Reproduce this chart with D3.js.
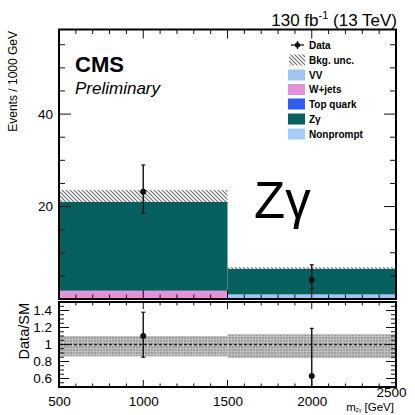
<!DOCTYPE html>
<html>
<head>
<meta charset="utf-8">
<script src="https://cdn.jsdelivr.net/npm/d3@7"></script>
<style>
  html, body { margin: 0; padding: 0; background: #fff; }
  svg { display: block; font-family: "Liberation Sans", Arial, sans-serif; }
</style>
</head>
<body>
<svg id="chart" width="415" height="415"></svg>
<script>
// Bin edges in m_Zγ [GeV]
const binEdges = [[500, 1500], [1500, 2500]];
const binCenters = [1000, 2000];

// Background stack, bottom to top
const processes = ["VV", "W+jets", "Top quark", "Zγ", "Nonprompt"];
const processColors = ["#9ec6f2", "#e391d9", "#2f5cf0", "#07605e", "#a6cdf7"];
const vvYield = [0.0, 1.0];
const wjetsYield = [1.8, 0.0];
const topYield = [0.0, 0.0];
const zgYield = [19.2, 5.5];
const nonpromptYield = [0.0, 0.0];

// Total background uncertainty (upper edge shown as hatched band)
const bkgUncUp = [2.6, 0.4];

// Observed data
const dataY = [23.2, 4.1];
const dataErrUp = [5.8, 3.3];
const dataErrDn = [4.6, 1.9];

// Ratio panel
const ratioY = [1.1, 0.63];
const ratioErrUp = [0.28, 0.56];
const ratioErrDn = [0.25, 0.4];
const ratioBandUp = [0.1, 0.12];
const ratioBandDn = [0.14, 0.16];

const xTicks = [500, 1000, 1500, 2000, 2500];
const yMainTicks = [20, 40];
const yRatioTicks = [0.6, 0.8, 1, 1.2, 1.4];

const svg = d3.select("#chart");
const L = 59, R = 396;
const mainTop = 29.5, mainBot = 299;
const ratTop = 302, ratBot = 387;

const x = d3.scaleLinear().domain([500, 2500]).range([L, R]);
const y = d3.scaleLinear().domain([0, 58.3]).range([mainBot, mainTop]);
const yr = d3.scaleLinear().domain([0.5, 1.5]).range([ratBot, ratTop]);

const defs = svg.append("defs");
const hatch = defs.append("pattern").attr("id", "hatch")
  .attr("patternUnits", "userSpaceOnUse").attr("width", 4).attr("height", 4);
hatch.append("path").attr("d", "M-1,-1 L5,5 M-1,3 L1,5 M3,-1 L5,1")
  .attr("stroke", "#6b6b6b").attr("stroke-width", 1.1);
const grid = defs.append("pattern").attr("id", "grid")
  .attr("patternUnits", "userSpaceOnUse").attr("width", 3).attr("height", 3);
grid.append("rect").attr("width", 3).attr("height", 3).attr("fill", "#a0a0a0");
grid.append("path").attr("d", "M0,0.5 H3 M0.5,0 V3").attr("stroke", "#c4c4c4").attr("stroke-width", 0.8);

// Stacked histogram
const yields = [vvYield, wjetsYield, topYield, zgYield, nonpromptYield];
const stackRows = binCenters.map((c, i) => {
  const row = { bin: i };
  processes.forEach((p, k) => row[p] = yields[k][i]);
  return row;
});
const series = d3.stack().keys(processes)(stackRows);
const gStack = svg.append("g");
series.forEach((s, k) => {
  gStack.selectAll(null).data(s).join("rect")
    .attr("x", d => x(binEdges[d.data.bin][0]))
    .attr("width", d => x(binEdges[d.data.bin][1]) - x(binEdges[d.data.bin][0]))
    .attr("y", d => y(d[1]))
    .attr("height", d => y(d[0]) - y(d[1]))
    .attr("fill", processColors[k]);
});
const totals = binCenters.map((c, i) => yields.reduce((a, v) => a + v[i], 0));

// Uncertainty hatch
svg.append("g").selectAll("rect").data(totals).join("rect")
  .attr("x", (d, i) => x(binEdges[i][0]))
  .attr("width", (d, i) => x(binEdges[i][1]) - x(binEdges[i][0]))
  .attr("y", (d, i) => y(d + bkgUncUp[i]))
  .attr("height", (d, i) => y(d) - y(d + bkgUncUp[i]))
  .attr("fill", "url(#hatch)");

// Data points with error bars
function drawPoints(g, xs, ys, up, dn, ys2) {
  xs.forEach((xv, i) => {
    const px = x(xv);
    const top = ys2(ys[i] + up[i]);
    const bot = Math.min(ys2(ys[i] - dn[i]), ys2.range()[0]);
    g.append("line").attr("x1", px).attr("x2", px).attr("y1", top).attr("y2", bot)
      .attr("stroke", "#111").attr("stroke-width", 1.4);
    g.append("line").attr("x1", px - 2).attr("x2", px + 2).attr("y1", top).attr("y2", top)
      .attr("stroke", "#111").attr("stroke-width", 1.2);
    if (ys2(ys[i] - dn[i]) < ys2.range()[0])
      g.append("line").attr("x1", px - 2).attr("x2", px + 2).attr("y1", bot).attr("y2", bot)
        .attr("stroke", "#111").attr("stroke-width", 1.2);
    g.append("circle").attr("cx", px).attr("cy", ys2(ys[i])).attr("r", 3).attr("fill", "#111");
  });
}
drawPoints(svg.append("g"), binCenters, dataY, dataErrUp, dataErrDn, y);

// Ratio band and reference line
svg.append("g").selectAll("rect").data(binCenters).join("rect")
  .attr("x", (d, i) => x(binEdges[i][0]))
  .attr("width", (d, i) => x(binEdges[i][1]) - x(binEdges[i][0]))
  .attr("y", (d, i) => yr(1 + ratioBandUp[i]))
  .attr("height", (d, i) => yr(1 - ratioBandDn[i]) - yr(1 + ratioBandUp[i]))
  .attr("fill", "url(#grid)");
svg.append("line").attr("x1", L).attr("x2", R).attr("y1", yr(1)).attr("y2", yr(1))
  .attr("stroke", "#222").attr("stroke-width", 1.3).attr("stroke-dasharray", "3,2");
const gR = svg.append("g");
drawPoints(gR, binCenters, ratioY, ratioErrUp, ratioErrDn, yr);

// Ticks (drawn inward on all sides, ROOT style)
function ticksX(yPos, dir, major, minor) {
  const g = svg.append("g");
  d3.range(500, 2501, 100).forEach(v => {
    const len = xTicks.includes(v) ? major : minor;
    g.append("line").attr("x1", x(v)).attr("x2", x(v)).attr("y1", yPos).attr("y2", yPos + dir * len)
      .attr("stroke", "#111").attr("stroke-width", 1);
  });
}
ticksX(mainBot, -1, 9, 4.5);
ticksX(mainTop, 1, 9, 4.5);
ticksX(ratBot, -1, 7, 3.5);
ticksX(ratTop, 1, 7, 3.5);

function ticksY(scale, values, majors, major, minor) {
  const g = svg.append("g");
  values.forEach(v => {
    const isMaj = majors.some(m => Math.abs(m - v) < 1e-6);
    const len = isMaj ? major : minor;
    g.append("line").attr("x1", L).attr("x2", L + len).attr("y1", scale(v)).attr("y2", scale(v))
      .attr("stroke", "#111").attr("stroke-width", 1);
    g.append("line").attr("x1", R).attr("x2", R - len).attr("y1", scale(v)).attr("y2", scale(v))
      .attr("stroke", "#111").attr("stroke-width", 1);
  });
}
ticksY(y, d3.range(5, 58, 5), yMainTicks, 12, 6);
ticksY(yr, d3.range(0.55, 1.5, 0.05).map(v => +v.toFixed(2)), yRatioTicks, 10, 5);

// Frames
[[mainTop, mainBot], [ratTop, ratBot]].forEach(([t, b]) => {
  svg.append("rect").attr("x", L).attr("y", t).attr("width", R - L).attr("height", b - t)
    .attr("fill", "none").attr("stroke", "#000").attr("stroke-width", 2);
});

// Axis labels via d3 axes (tick marks hidden, labels only)
const xAxis = svg.append("g").attr("transform", `translate(0,${ratBot})`)
  .call(d3.axisBottom(x).tickValues(xTicks).tickSize(0).tickPadding(9).tickFormat(d3.format("d")));
xAxis.select(".domain").remove();
xAxis.selectAll("text").attr("font-size", 13.5).attr("font-family", "Liberation Sans, Arial, sans-serif").attr("fill", "#000");
xAxis.selectAll("text").filter(d => d === 2500).attr("dx", -5).attr("dy", "0.05em");

const yAxis = svg.append("g").attr("transform", `translate(${L},0)`)
  .call(d3.axisLeft(y).tickValues(yMainTicks).tickSize(0).tickPadding(6));
yAxis.select(".domain").remove();
yAxis.selectAll("text").attr("font-size", 13.5).attr("font-family", "Liberation Sans, Arial, sans-serif").attr("fill", "#000");

const yrAxis = svg.append("g").attr("transform", `translate(${L},0)`)
  .call(d3.axisLeft(yr).tickValues(yRatioTicks).tickSize(0).tickPadding(7).tickFormat(d => d === 1 ? "1" : d3.format(".1f")(d)));
yrAxis.select(".domain").remove();
yrAxis.selectAll("text").attr("font-size", 13.5).attr("font-family", "Liberation Sans, Arial, sans-serif").attr("fill", "#000");

// Titles
svg.append("text").attr("transform", `translate(17,31) rotate(-90)`).attr("text-anchor", "end")
  .attr("font-size", 12).text("Events / 1000 GeV");
svg.append("text").attr("transform", `translate(29,303) rotate(-90)`).attr("text-anchor", "end")
  .attr("font-size", 14.5).text("Data/SM");
const xt = svg.append("text").attr("x", 394).attr("y", 410.5).attr("text-anchor", "end").attr("font-size", 11.5);
xt.append("tspan").text("m");
xt.append("tspan").attr("font-size", 5).attr("dy", 1.5).text("Zγ");
xt.append("tspan").attr("dy", -1.5).text(" [GeV]");

const lumi = svg.append("text").attr("x", 397).attr("y", 26).attr("text-anchor", "end").attr("font-size", 17);
lumi.append("tspan").text("130 fb");
lumi.append("tspan").attr("font-size", 11).attr("dy", -7).text("-1");
lumi.append("tspan").attr("dy", 7).text(" (13 TeV)");

svg.append("text").attr("x", 75).attr("y", 72).attr("font-size", 22).attr("font-weight", "bold").text("CMS");
svg.append("text").attr("x", 75).attr("y", 94).attr("font-size", 17).attr("font-style", "italic").text("Preliminary");
svg.append("text").attr("x", 254).attr("y", 218).attr("font-size", 51).text("Zγ");

// Legend
const lg = svg.append("g").attr("font-size", 10).attr("font-weight", "bold");
const rowY = [45, 60, 75, 89.5, 104, 119, 134];
lg.append("line").attr("x1", 291).attr("x2", 304).attr("y1", rowY[0]).attr("y2", rowY[0]).attr("stroke", "#111").attr("stroke-width", 1.3);
lg.append("line").attr("x1", 297.5).attr("x2", 297.5).attr("y1", rowY[0] - 4).attr("y2", rowY[0] + 4).attr("stroke", "#111").attr("stroke-width", 1.3);
lg.append("circle").attr("cx", 297.5).attr("cy", rowY[0]).attr("r", 2.6).attr("fill", "#111");
lg.append("text").attr("x", 309).attr("y", rowY[0] + 3.5).text("Data");
lg.append("rect").attr("x", 289).attr("y", rowY[1] - 5.5).attr("width", 16).attr("height", 11).attr("fill", "url(#hatch)");
lg.append("text").attr("x", 309).attr("y", rowY[1] + 3.5).text("Bkg. unc.");
processes.forEach((p, k) => {
  const ry = rowY[k + 2];
  lg.append("rect").attr("x", 288).attr("y", ry - 5.5).attr("width", 17).attr("height", 11).attr("fill", processColors[k]);
  lg.append("text").attr("x", 309).attr("y", ry + 3.5).text(p);
});
</script>
</body>
</html>
